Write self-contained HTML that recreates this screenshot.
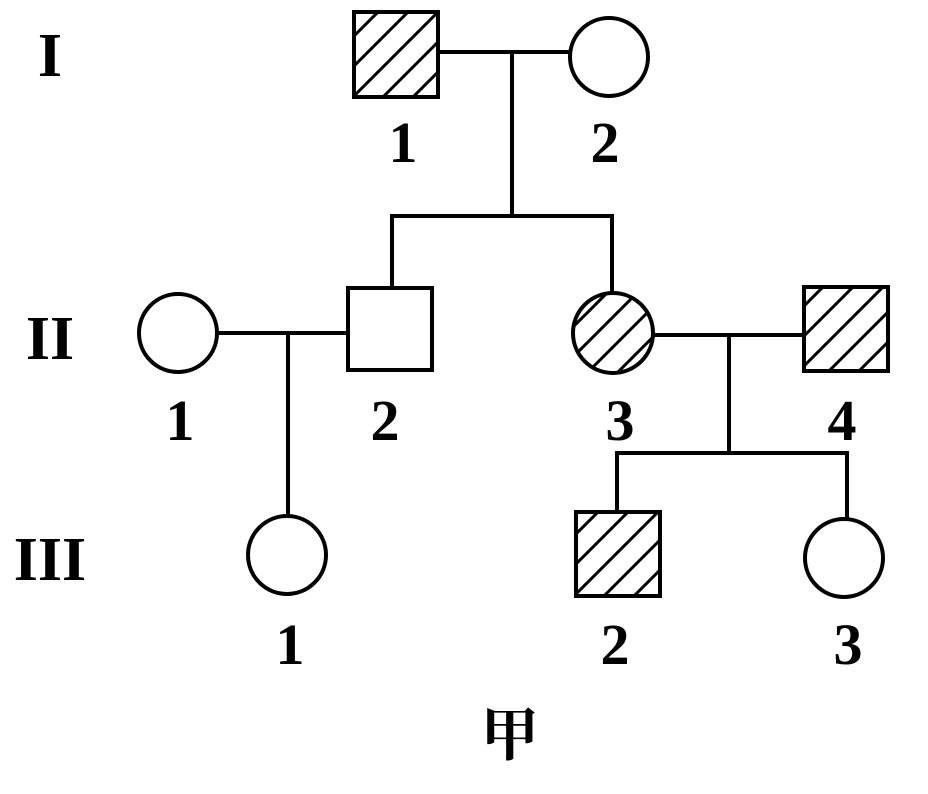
<!DOCTYPE html>
<html><head><style>body{margin:0;background:#fff}svg{display:block}</style></head><body>
<svg width="928" height="794" viewBox="0 0 928 794" xmlns="http://www.w3.org/2000/svg">
<defs>
<pattern id="h" patternUnits="userSpaceOnUse" width="30" height="30">
<path d="M-5,35 L35,-5 M-35,35 L35,-35 M-5,65 L65,-5" stroke="#000" stroke-width="3"/>
</pattern>
</defs>
<g stroke="#000" stroke-width="4" fill="none">
<line x1="438" y1="52" x2="570" y2="52"/>
<line x1="512" y1="52" x2="512" y2="216"/>
<line x1="390" y1="216" x2="614" y2="216"/>
<line x1="392" y1="216" x2="392" y2="288"/>
<line x1="612" y1="216" x2="612" y2="294"/>
<line x1="217" y1="333" x2="348" y2="333"/>
<line x1="288" y1="333" x2="288" y2="516"/>
<line x1="653" y1="335" x2="804" y2="335"/>
<line x1="729" y1="335" x2="729" y2="453"/>
<line x1="615" y1="453" x2="849" y2="453"/>
<line x1="617" y1="453" x2="617" y2="512"/>
<line x1="847" y1="453" x2="847" y2="519"/>
<rect x="354" y="12" width="84" height="85" fill="url(#h)"/>
<circle cx="609" cy="57" r="39" fill="#fff"/>
<circle cx="178" cy="333" r="39" fill="#fff"/>
<rect x="348" y="288" width="84" height="82" fill="#fff"/>
<circle cx="613" cy="333" r="40" fill="url(#h)"/>
<rect x="804" y="287" width="84" height="84" fill="url(#h)"/>
<circle cx="287" cy="555" r="39" fill="#fff"/>
<rect x="576" y="512" width="84" height="84" fill="url(#h)"/>
<circle cx="844" cy="558" r="39" fill="#fff"/>
</g>
<g font-family="Liberation Serif, serif" font-size="58" font-weight="bold" text-anchor="middle" fill="#000">
<text x="403" y="162">1</text>
<text x="605" y="162">2</text>
<text x="180" y="440">1</text>
<text x="385" y="440">2</text>
<text x="620" y="440">3</text>
<text x="842" y="440">4</text>
<text x="290" y="664">1</text>
<text x="615" y="664">2</text>
<text x="848" y="664">3</text>
<text x="50" y="76" font-size="62">I</text>
<text x="50" y="359" font-size="62">II</text>
<text x="50" y="580" font-size="62">III</text>
</g>
<text x="510" y="755" font-family="Liberation Serif, 'Noto Serif CJK SC', serif" font-size="58" font-weight="bold" text-anchor="middle">甲</text>
</svg>
</body></html>
